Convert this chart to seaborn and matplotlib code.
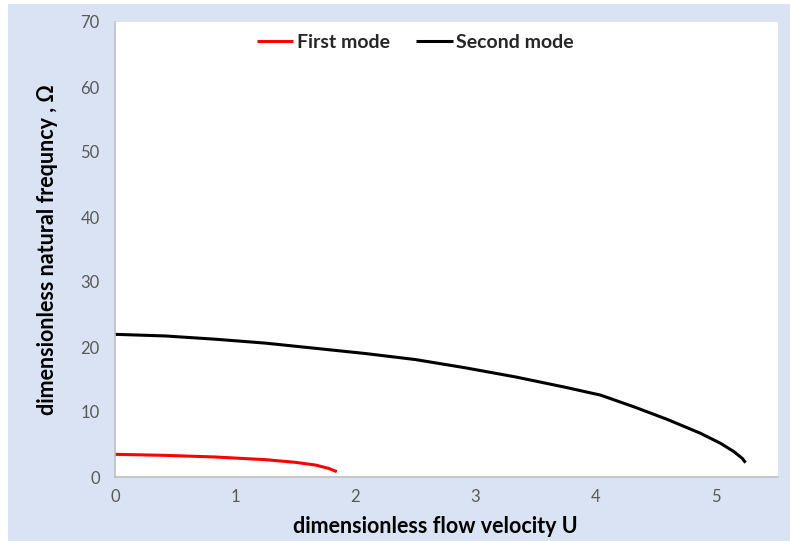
import matplotlib
matplotlib.use("Agg")
import matplotlib.pyplot as plt
import seaborn as sns
import pandas as pd
from matplotlib.patches import Rectangle

# Data
u_first = [0.0, 0.417, 0.833, 1.25, 1.5, 1.667, 1.778, 1.847]
omega_first = [3.49, 3.33, 3.08, 2.67, 2.26, 1.85, 1.33, 0.82]

u_second = [0.0, 0.417, 0.833, 1.25, 1.667, 2.083, 2.5, 2.917, 3.333, 3.75,
            4.042, 4.32, 4.597, 4.875, 5.042, 5.153, 5.222, 5.25]
omega_second = [21.95, 21.7, 21.2, 20.6, 19.8, 19.0, 18.07, 16.8, 15.4, 13.8,
                12.6, 10.8, 8.87, 6.72, 5.18, 3.9, 2.87, 2.2]

x_ticks = [0, 1, 2, 3, 4, 5]
y_ticks = [0, 10, 20, 30, 40, 50, 60, 70]
series_names = ["First mode", "Second mode"]
series_colors = ["#FF0000", "#000000"]

df = pd.concat([
    pd.DataFrame({"U": u_first, "Omega": omega_first, "mode": series_names[0]}),
    pd.DataFrame({"U": u_second, "Omega": omega_second, "mode": series_names[1]}),
])

sns.set_theme(style="white")
plt.rcParams["font.family"] = ["Lato", "DejaVu Sans"]

fig = plt.figure(figsize=(7.9, 5.41), dpi=100, facecolor="white")
fig.patches.append(Rectangle((8 / 790, 0), 1 - 8 / 790, 1 - 4 / 541,
                             transform=fig.transFigure, facecolor="#DAE3F3",
                             edgecolor="none", zorder=-10))
ax = fig.add_axes([115 / 790, 1 - 477 / 541, (778 - 115) / 790, (477 - 22) / 541])
ax.set_facecolor("white")

sns.lineplot(data=df, x="U", y="Omega", hue="mode", palette=series_colors,
             hue_order=series_names, sort=False, estimator=None, linewidth=2.2, ax=ax)
for line in ax.get_lines():
    line.set_solid_joinstyle("round")
    line.set_solid_capstyle("butt")

ax.set_xlim(0, 5.52)
ax.set_ylim(0, 70)
ax.set_xticks(x_ticks)
ax.set_yticks(y_ticks)
ax.tick_params(axis="both", length=0, labelsize=12, labelcolor="#595959")
ax.tick_params(axis="x", pad=9)
ax.tick_params(axis="y", pad=11)

for side in ["top", "right"]:
    ax.spines[side].set_visible(False)
for side in ["left", "bottom"]:
    ax.spines[side].set_color("#BFBFBF")
    ax.spines[side].set_linewidth(1.2)

ax.set_xlabel("dimensionless flow velocity U", fontsize=15.5, fontweight="bold",
              color="black")
ax.xaxis.set_label_coords(0.483, -0.085)
ax.set_ylabel("dimensionless natural frequncy , Ω", fontsize=15.5, fontweight="bold",
              color="black", labelpad=16)

leg = ax.legend(loc="upper center", bbox_to_anchor=(0.453, 1.012), ncol=2, frameon=False,
                prop={"weight": "bold", "size": 14}, handlelength=1.9,
                handletextpad=0.2, columnspacing=1.3)
for line in leg.get_lines():
    line.set_linewidth(2.2)

fig.savefig("out.png", dpi=100, facecolor=fig.get_facecolor())
